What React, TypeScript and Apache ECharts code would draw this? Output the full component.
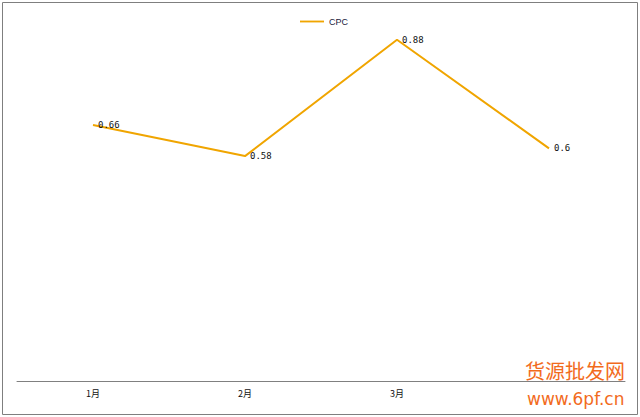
import React, { useEffect, useRef } from "react";
import * as echarts from "echarts";

const categories = ["1月", "2月", "3月", "4月"];
const cpcValues = [0.66, 0.58, 0.88, 0.6];
const seriesName = "CPC";

export default function App() {
  const ref = useRef<HTMLDivElement>(null);
  useEffect(() => {
    document.body.style.margin = "0";
    const chart = echarts.init(ref.current!, null, { renderer: "svg" });
    chart.setOption({
      animation: false,
      backgroundColor: "#ffffff",
      legend: {
        data: [seriesName],
        top: 12,
        left: 295,
        itemWidth: 24,
        itemHeight: 10,
        itemGap: 0,
        icon: "path://M0,4 L26,4 L26,6 L0,6 Z",
        textStyle: { fontSize: 9, color: "#1a1a3a", fontFamily: "Liberation Sans, Arial, sans-serif" },
      },
      grid: { left: 17, right: 15, top: 32, bottom: 36, containLabel: false },
      xAxis: {
        type: "category",
        data: categories,
        boundaryGap: true,
        axisLine: { lineStyle: { color: "#808080", width: 1 } },
        axisTick: { show: false },
        axisLabel: {
          fontSize: 9,
          color: "#111",
          margin: 8,
          fontFamily: "Noto Sans CJK SC, sans-serif",
          interval: (i: number) => i < categories.length - 1,
        },
      },
      yAxis: {
        type: "value",
        min: 0,
        max: 0.9,
        show: false,
        splitLine: { show: false },
      },
      series: [
        {
          name: seriesName,
          type: "line",
          data: cpcValues,
          symbol: "circle",
          symbolSize: 0,
          showSymbol: true,
          lineStyle: { color: "#F0A500", width: 2 },
          itemStyle: { color: "#F0A500" },
          label: {
            show: true,
            position: "right",
            distance: 5,
            fontSize: 9,
            color: "#111",
            fontFamily: "DejaVu Sans Mono, monospace",
          },
        },
      ],
      graphic: [
        {
          type: "rect",
          shape: { x: 2.5, y: 2.5, width: 635, height: 412 },
          style: { fill: "none", stroke: "#7f7f7f", lineWidth: 1 },
          z: 100,
        },
        {
          type: "text",
          x: 525,
          y: 360,
          style: { text: "货源批发网", fontSize: 20, fill: "#F26B1D", fontFamily: "Noto Sans CJK SC, sans-serif" },
          z: 101,
        },
        {
          type: "text",
          x: 527,
          y: 390,
          style: { text: "www.6pf.cn", fontSize: 17, fill: "#F26B1D", fontFamily: "DejaVu Sans, sans-serif" },
          z: 101,
        },
      ],
    });
    return () => chart.dispose();
  }, []);
  return <div ref={ref} style={{ width: 640, height: 417 }} />;
}
